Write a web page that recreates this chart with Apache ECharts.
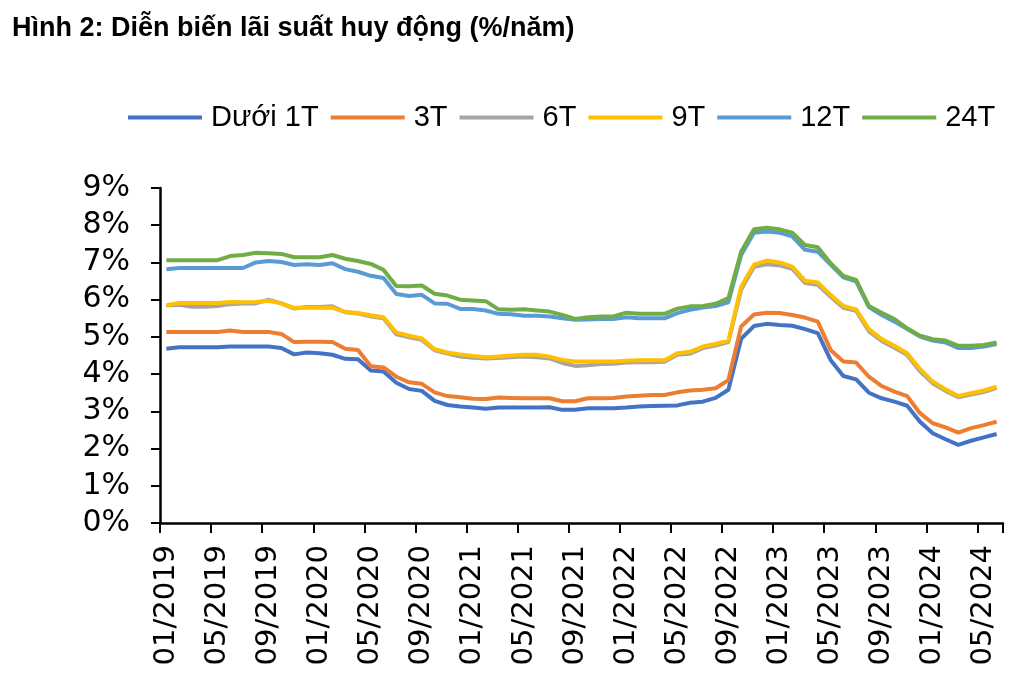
<!DOCTYPE html>
<html>
<head>
<meta charset="utf-8">
<script src="https://cdn.jsdelivr.net/npm/echarts@6/dist/echarts.min.js"></script>
<style>
  html, body { margin: 0; padding: 0; background: #fff; }
  #main { width: 1023px; height: 684px; }
</style>
</head>
<body>
<div id="main"></div>
<script>
// thang: 01/2019 -> 06/2024
var months = [];
for (var y = 2019; y <= 2024; y++) {
    for (var m = 1; m <= 12; m++) {
        if (y == 2024 && m > 6) break;
        months.push((m < 10 ? '0' + m : '' + m) + '/' + y);
    }
}

var seriesNames = ['Dưới 1T', '3T', '6T', '9T', '12T', '24T'];
var seriesColors = ['#4472C4', '#ED7D31', '#A5A5A5', '#FFC000', '#5B9BD5', '#70AD47'];

var duoi1T = [4.68,4.72,4.72,4.72,4.72,4.74,4.74,4.74,4.74,4.70,4.53,4.58,
              4.56,4.52,4.41,4.40,4.10,4.07,3.77,3.60,3.55,3.28,3.17,3.13,
              3.10,3.07,3.10,3.10,3.10,3.10,3.11,3.04,3.04,3.08,3.08,3.08,
              3.10,3.13,3.14,3.15,3.16,3.23,3.26,3.36,3.58,4.95,5.29,5.35,
              5.32,5.30,5.21,5.10,4.38,3.95,3.86,3.50,3.35,3.26,3.15,2.72,
              2.41,2.25,2.10,2.21,2.30,2.39];
var t3 = [5.13,5.13,5.13,5.13,5.13,5.17,5.13,5.13,5.13,5.08,4.86,4.87,
          4.87,4.86,4.68,4.65,4.21,4.18,3.93,3.78,3.74,3.51,3.41,3.38,
          3.34,3.33,3.37,3.36,3.35,3.35,3.35,3.27,3.27,3.35,3.35,3.36,
          3.40,3.42,3.44,3.44,3.51,3.56,3.58,3.62,3.84,5.28,5.60,5.65,
          5.64,5.59,5.52,5.41,4.65,4.34,4.31,3.93,3.68,3.53,3.41,2.95,
          2.68,2.57,2.43,2.55,2.63,2.72];
var t6 = [5.85,5.86,5.81,5.81,5.83,5.88,5.90,5.90,6.00,5.90,5.76,5.80,
          5.80,5.82,5.66,5.63,5.55,5.50,5.07,4.99,4.92,4.64,4.55,4.47,
          4.44,4.42,4.43,4.45,4.47,4.45,4.42,4.30,4.22,4.24,4.27,4.28,
          4.31,4.32,4.32,4.33,4.52,4.55,4.70,4.77,4.86,6.27,6.88,6.95,
          6.92,6.83,6.45,6.40,6.08,5.78,5.70,5.15,4.89,4.71,4.51,4.08,
          3.75,3.55,3.38,3.45,3.52,3.63];
var t9 = [5.85,5.91,5.91,5.91,5.91,5.94,5.93,5.94,5.97,5.90,5.78,5.78,
          5.78,5.78,5.67,5.64,5.58,5.53,5.12,5.03,4.96,4.67,4.58,4.53,
          4.49,4.45,4.47,4.50,4.52,4.52,4.47,4.38,4.34,4.34,4.34,4.34,
          4.36,4.37,4.37,4.37,4.56,4.60,4.74,4.81,4.90,6.35,6.94,7.05,
          7.00,6.89,6.51,6.46,6.13,5.83,5.74,5.21,4.94,4.76,4.56,4.14,
          3.80,3.59,3.41,3.49,3.56,3.66];
var t12 = [6.82,6.85,6.85,6.85,6.85,6.85,6.85,7.00,7.04,7.01,6.93,6.95,
           6.93,6.98,6.82,6.75,6.64,6.58,6.15,6.10,6.13,5.90,5.89,5.75,
           5.75,5.71,5.62,5.61,5.57,5.57,5.55,5.50,5.46,5.47,5.48,5.48,
           5.53,5.50,5.50,5.50,5.64,5.73,5.79,5.83,5.93,7.20,7.80,7.83,
           7.80,7.70,7.34,7.29,6.94,6.60,6.49,5.80,5.59,5.41,5.21,5.01,
           4.90,4.85,4.70,4.70,4.74,4.81];
var t24 = [7.06,7.06,7.06,7.06,7.06,7.17,7.20,7.26,7.25,7.23,7.14,7.14,
           7.14,7.20,7.10,7.04,6.96,6.80,6.37,6.36,6.38,6.16,6.11,6.00,
           5.98,5.96,5.74,5.73,5.74,5.71,5.68,5.59,5.48,5.53,5.55,5.55,
           5.65,5.62,5.62,5.62,5.76,5.82,5.83,5.89,6.04,7.29,7.89,7.93,
           7.89,7.80,7.47,7.41,6.98,6.64,6.53,5.83,5.65,5.48,5.23,5.03,
           4.94,4.90,4.76,4.76,4.78,4.85];

var allData = [duoi1T, t3, t6, t9, t12, t24];
var yTicks = [0, 1, 2, 3, 4, 5, 6, 7, 8, 9];

var chart = echarts.init(document.getElementById('main'));

var series = [];
for (var i = 0; i < seriesNames.length; i++) {
    series.push({
        name: seriesNames[i],
        type: 'line',
        data: allData[i],
        symbol: 'none',
        lineStyle: { width: 4, color: seriesColors[i] },
        itemStyle: { color: seriesColors[i] }
    });
}

var option = {
    animation: false,
    backgroundColor: '#fff',
    title: {
        text: 'Hình 2: Diễn biến lãi suất huy động (%/năm)',
        left: 7,
        top: 10,
        textStyle: {
            fontFamily: 'Liberation Sans',
            fontWeight: 'bold',
            fontSize: 27,
            color: '#000'
        }
    },
    legend: {
        left: 123,
        top: 98,
        icon: 'rect',
        itemWidth: 74,
        itemHeight: 4,
        itemGap: 12,
        textStyle: {
            fontFamily: 'Liberation Sans',
            fontSize: 29,
            color: '#000',
            padding: [0, 0, 0, 4]
        },
        data: seriesNames
    },
    grid: {
        left: 160,
        right: 20,
        top: 188,
        bottom: 161,
        containLabel: false
    },
    xAxis: {
        type: 'category',
        data: months,
        boundaryGap: true,
        axisLine: { lineStyle: { color: '#000', width: 2.5 } },
        axisTick: { show: true, interval: 3, length: 10, lineStyle: { color: '#000', width: 2 } },
        axisLabel: {
            interval: 3,
            rotate: 90,
            margin: 22,
            fontFamily: 'DejaVu Sans',
            fontSize: 29,
            color: '#000'
        },
        splitLine: { show: false }
    },
    yAxis: {
        type: 'value',
        min: yTicks[0],
        max: yTicks[yTicks.length - 1],
        interval: 1,
        axisLine: { show: true, lineStyle: { color: '#000', width: 2.5 } },
        axisTick: { show: true, length: 9, lineStyle: { color: '#000', width: 2 } },
        axisLabel: {
            formatter: '{value}%',
            margin: 30,
            fontFamily: 'DejaVu Sans',
            fontSize: 30,
            color: '#000'
        },
        splitLine: { show: false }
    },
    series: series
};

chart.setOption(option);
</script>
</body>
</html>
